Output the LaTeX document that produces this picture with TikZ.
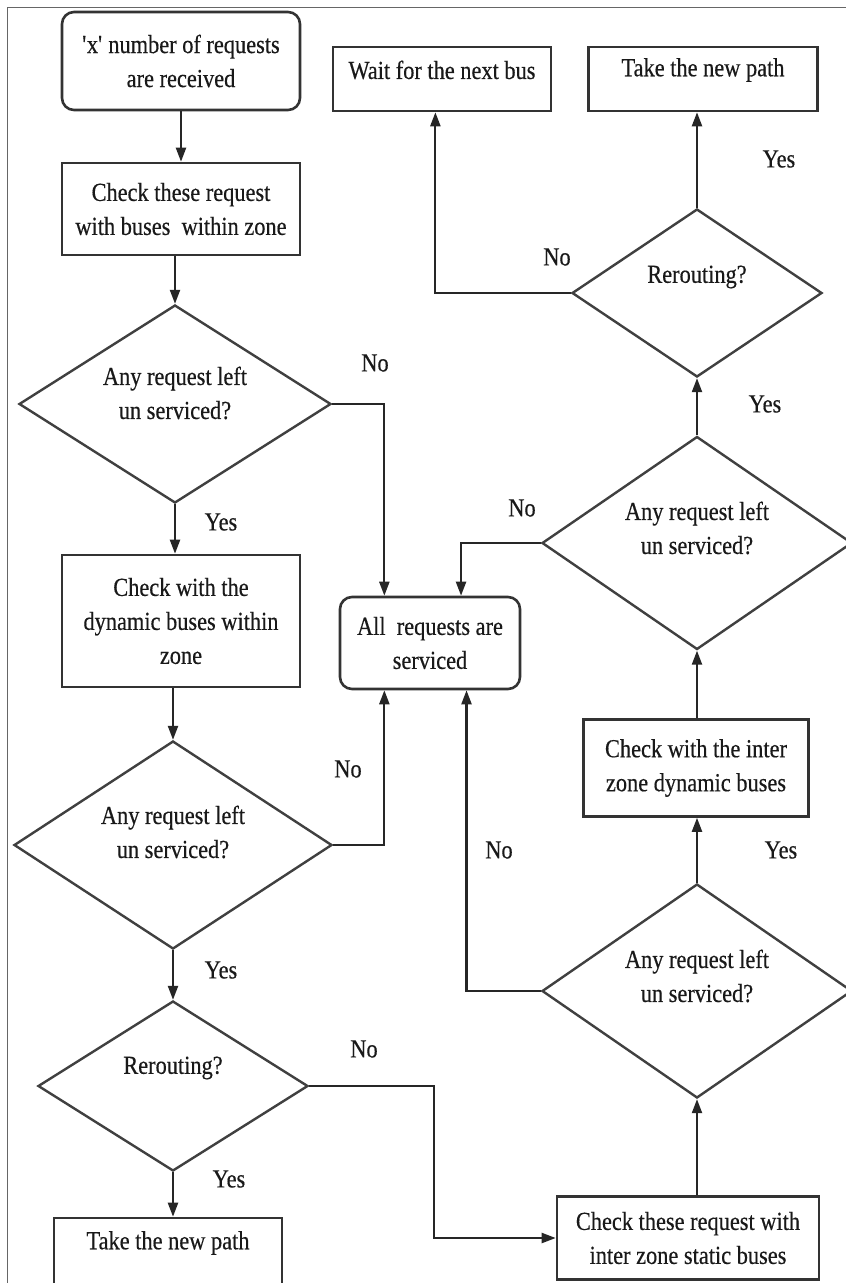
\documentclass[tikz,border=0pt]{standalone}
\usepackage{fontspec}
\setmainfont{Liberation Serif}[FakeStretch=0.86,FakeBold=0.4]
\usetikzlibrary{shapes.geometric,arrows.meta,calc}
\begin{document}
\begin{tikzpicture}[x=1pt,y=-1pt,
  every node/.style={font=\fontsize{26}{34}\selectfont, align=center, text=black!90},
  box/.style 2 args={draw=black!80, line width=2.6pt, rectangle, minimum width=#1, minimum height=#2, inner sep=0pt},
  rbox/.style 2 args={box={#1}{#2}, rounded corners=12pt},
  dia/.style 2 args={draw=black!75, line width=2.4pt, diamond, minimum width=#1, minimum height=#2, inner sep=0pt},
  arr/.style={draw=black!85, line width=2.2pt, -{Triangle[length=14pt,width=10pt]}},
  lab/.style={font=\fontsize{26}{34}\selectfont}
]
\useasboundingbox[fill=white] (0,0) rectangle (846,1283);
\draw[black!60, line width=1pt] (7,1283) -- (7,7) -- (846,7);

% left column
\node[rbox={238}{98}] (start) at (181,61) {\textquotesingle x\textquotesingle\ number of requests\\are received};
\node[box={238}{92}] (b1) at (181,209) {Check these request\\with buses\ \ within zone};
\node[dia={312}{198}, label={[name=d1t, yshift=11pt]center:{Any request left\\un serviced?}}] (d1) at (175,404) {};
\node[box={238}{132}] (b2) at (181,621) {Check with the\\dynamic buses within\\zone};
\node[rbox={180}{92}] (all) at (430,643) {All\ \ requests are\\serviced};
\node[dia={318}{208}, label={[name=d2t, yshift=13pt]center:{Any request left\\un serviced?}}] (d2) at (173,845) {};
\node[dia={270}{170}, label={[name=d3t, yshift=18pt]center:{Rerouting?}}] (d3) at (173,1086) {};
\node[box={228}{80}, label={[name=tlt, yshift=15pt]center:{Take the new path}}] (tl) at (168,1258) {};

% right column
\node[box={262}{83}] (static) at (688,1238) {Check these request with\\inter zone static buses};
\node[dia={310}{214}, label={[name=dR3t, yshift=15pt]center:{Any request left\\un serviced?}}] (dR3) at (697,991) {};
\node[box={225}{97}] (dyn) at (696,768) {Check with the inter\\zone dynamic buses};
\node[dia={310}{213}, label={[name=dR2t, yshift=15pt]center:{Any request left\\un serviced?}}] (dR2) at (697,543) {};
\node[dia={250}{168}, label={[name=dR1t, yshift=16pt]center:{Rerouting?}}] (dR1) at (697,293) {};
\node[box={218}{64}, label={[name=waitt, yshift=9pt]center:{Wait for the next bus}}] (wait) at (442,79) {};
\node[box={229}{64}, label={[name=tnpt, yshift=9pt]center:{Take the new path}}] (tnp) at (703,79) {};

% connectors
\draw[arr] (start.south) -- (b1.north);
\draw[arr] (b1.south -| d1.north) -- (d1.north);
\draw[arr] (d1.south) -- (d1.south |- b2.north);
\draw[arr] (b2.south -| d2.north) -- (d2.north);
\draw[arr] (d2.south) -- (d3.north);
\draw[arr] (d3.south) -- (d3.south |- tl.north);
\draw[arr] (d1.east) -| ($(all.north west)!0.25!(all.north east)$);
\draw[arr] (d2.east) -| ($(all.south west)!0.25!(all.south east)$);
\draw[arr] (d3.east) -- ++(125,0) |- (static.west);
\draw[arr] (static.north -| dR3.south) -- (dR3.south);
\draw[arr] (dR3.west) -| ($(all.south west)!0.70!(all.south east)$);
\draw[arr] (dR3.north) -- (dR3.north |- dyn.south);
\draw[arr] (dyn.north -| dR2.south) -- (dR2.south);
\draw[arr] (dR2.west) -| ($(all.north west)!0.67!(all.north east)$);
\draw[arr] (dR2.north) -- (dR1.south);
\draw[arr] (dR1.west) -| ($(wait.south west)!0.47!(wait.south east)$);
\draw[arr] (dR1.north) -- (dR1.north |- tnp.south);

% branch labels
\node[lab] (n1) at (375,363) {No};
\node[lab] (y1) at (221,522) {Yes};
\node[lab] (n2) at (348,769) {No};
\node[lab] (y2) at (221,970) {Yes};
\node[lab] (n3) at (364,1049) {No};
\node[lab] (y3) at (229,1179) {Yes};
\node[lab] (n4) at (499,850) {No};
\node[lab] (y4) at (781,850) {Yes};
\node[lab] (n5) at (522,508) {No};
\node[lab] (y5) at (765,404) {Yes};
\node[lab] (n6) at (557,257) {No};
\node[lab] (y6) at (779,159) {Yes};
\end{tikzpicture}
\end{document}
